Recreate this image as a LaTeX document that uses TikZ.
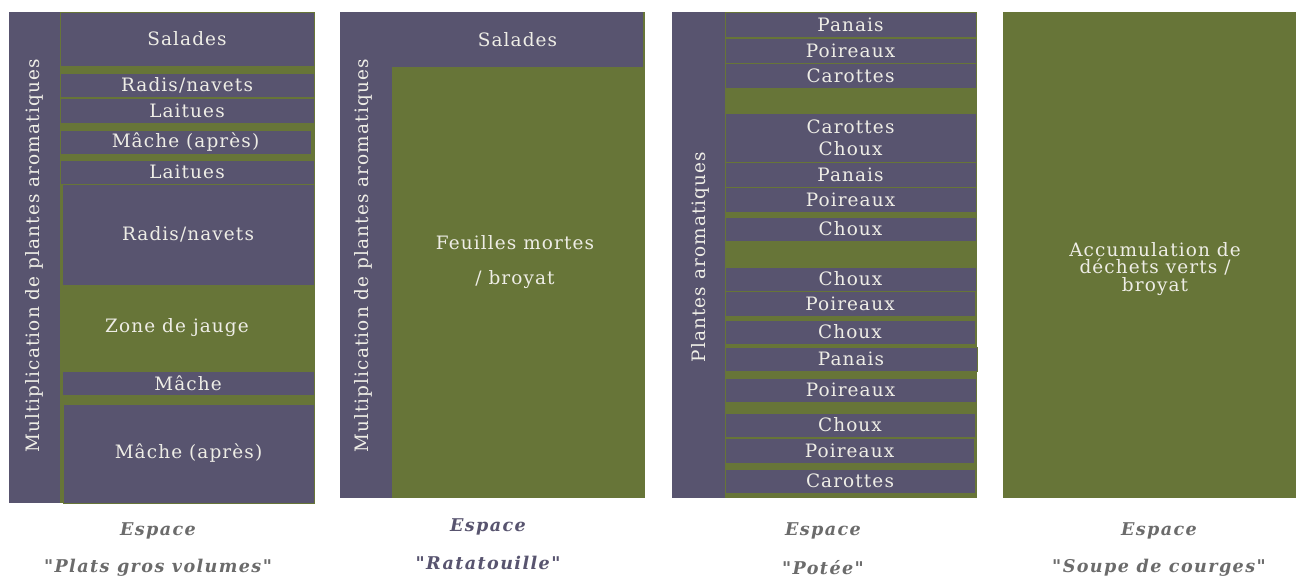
\documentclass[tikz,border=0pt]{standalone}
\usepackage{fontspec}
\newfontfamily\bandfont{DejaVu Serif}[LetterSpace=6]
\newfontfamily\capfont{DejaVu Serif}[LetterSpace=8]
\definecolor{plum}{HTML}{58546F}
\definecolor{leaf}{HTML}{677538}
\definecolor{chalk}{HTML}{EEEDE6}
\definecolor{capgray}{HTML}{6B6B6B}
\tikzset{
  bed/.style={fill=leaf},
  band/.style={fill=plum,draw=leaf,line width=0.5pt},
  aisle/.style={fill=plum},
  crop/.style={text=chalk,font=\bandfont\fontsize{10.5}{12}\selectfont,inner sep=0pt},
  side/.style={crop,rotate=90},
  caption/.style={text=capgray,font=\capfont\bfseries\itshape\fontsize{10}{12}\selectfont,inner sep=0pt}
}

\begin{document}
\begin{tikzpicture}[x=0.02cm,y=-0.02cm]
  \useasboundingbox (0,0) rectangle (1296,581);

  % espace "plats gros volumes"
  \fill[bed] (9,12) rectangle (315,503);
  \fill[aisle] (9,12) rectangle (60,503);
  \node[side] (aro1) at (34,256) {Multiplication de plantes aromatiques};
  \draw[band] (60,12) rectangle (314,66) node[midway,crop] (sal1) {Salades};
  \draw[band] (60,73) rectangle (314,97) node[midway,crop] (rad1) {Radis/navets};
  \draw[band] (60,98) rectangle (314,123) node[midway,crop] (lai1) {Laitues};
  \draw[band] (60,130) rectangle (311,154) node[midway,crop] (mac1) {Mâche (après)};
  \draw[band] (60,160) rectangle (314,184) node[midway,crop] (lai2) {Laitues};
  \draw[band] (62,184) rectangle (314,285) node[midway,crop] (rad2) {Radis/navets};
  \node[crop] (jauge) at (177,328) {Zone de jauge};
  \draw[band] (62,371) rectangle (314,395) node[midway,crop] (mac2) {Mâche};
  \draw[band] (63,404) rectangle (314,503) node[midway,crop] (mac3) {Mâche (après)};
  \node[caption] (esp1) at (158,531) {Espace};
  \node[caption] (nom1) at (158,568) {"Plats gros volumes"};

  % espace "ratatouille"
  \fill[bed] (340,12) rectangle (645,498);
  \fill[aisle] (340,12) rectangle (392,498);
  \node[side] (aro2) at (363,256) {Multiplication de plantes aromatiques};
  \fill[aisle] (392,12) rectangle (643,67) node[midway,crop] (sal2) {Salades};
  \node[crop,align=center,font=\bandfont\fontsize{10.5}{20}\selectfont] (feuil) at (515,262) {Feuilles mortes\\ / broyat};
  \node[caption,text=plum] (esp2) at (488,527) {Espace};
  \node[caption,text=plum] (nom2) at (488,563) {"Ratatouille"};

  % espace "potee"
  \fill[bed] (672,12) rectangle (977,498);
  \fill[aisle] (672,12) rectangle (725,498);
  \node[side] (aro3) at (700,257) {Plantes aromatiques};
  \draw[band] (725,12) rectangle (976,37) node[midway,crop] (pa1) {Panais};
  \draw[band] (725,38) rectangle (976,63) node[midway,crop] (po1) {Poireaux};
  \draw[band] (725,63) rectangle (976,88) node[midway,crop] (ca1) {Carottes};
  \draw[band] (725,113) rectangle (976,162) node[midway,crop,align=center,font=\bandfont\fontsize{10.5}{12.5}\selectfont] (ca2) {Carottes\\Choux};
  \draw[band] (725,162) rectangle (976,187) node[midway,crop] (pa2) {Panais};
  \draw[band] (725,187) rectangle (976,212) node[midway,crop] (po2) {Poireaux};
  \draw[band] (725,217) rectangle (976,241) node[midway,crop] (ch1) {Choux};
  \draw[band] (725,267) rectangle (976,291) node[midway,crop] (ch2) {Choux};
  \draw[band] (725,291) rectangle (975,316) node[midway,crop] (po3) {Poireaux};
  \draw[band] (725,320) rectangle (975,344) node[midway,crop] (ch3) {Choux};
  \draw[band] (725,347) rectangle (977,371) node[midway,crop] (pa3) {Panais};
  \draw[band] (725,378) rectangle (976,402) node[midway,crop] (po4) {Poireaux};
  \draw[band] (725,413) rectangle (975,437) node[midway,crop] (ch4) {Choux};
  \draw[band] (725,438) rectangle (974,463) node[midway,crop] (po5) {Poireaux};
  \draw[band] (725,469) rectangle (975,493) node[midway,crop] (ca3) {Carottes};
  \node[caption] (esp3) at (823,531) {Espace};
  \node[caption] (nom3) at (823,568) {"Potée"};

  % espace "soupe de courges"
  \fill[bed] (1003,12) rectangle (1296,498);
  \node[crop,align=center,font=\bandfont\fontsize{10.5}{8.5}\selectfont] (dechets) at (1155,269) {Accumulation de\\déchets verts /\\broyat};
  \node[caption] (esp4) at (1159,531) {Espace};
  \node[caption] (nom4) at (1159,568) {"Soupe de courges"};
\end{tikzpicture}
\end{document}
